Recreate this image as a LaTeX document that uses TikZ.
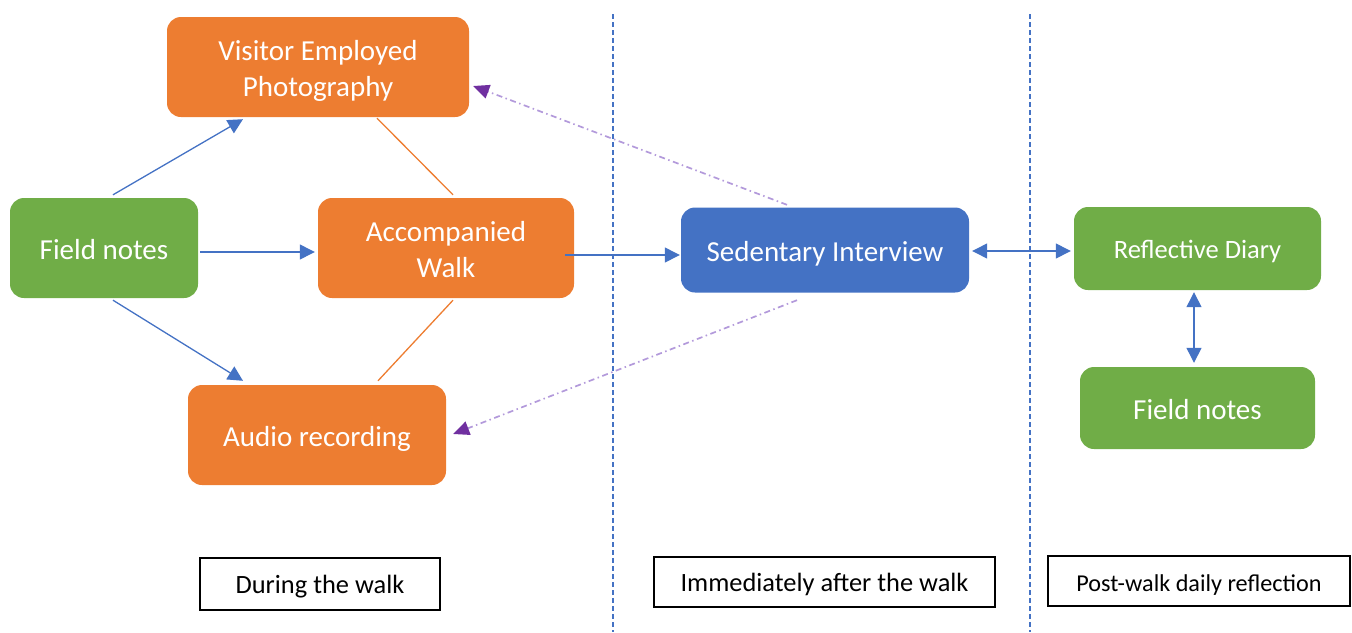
\documentclass[tikz,border=0pt]{standalone}
\usepackage{fontspec}
\setmainfont{Carlito}
\usetikzlibrary{arrows.meta,calc}
\definecolor{orng}{HTML}{ED7D31}
\definecolor{grn}{HTML}{70AD47}
\definecolor{blu}{HTML}{4472C4}
\definecolor{purp}{HTML}{7030A0}
\definecolor{purpl}{HTML}{B39ADB}
\begin{document}
\begin{tikzpicture}[x=1pt,y=-1pt,
  box/.style={rectangle, rounded corners=14pt, text=white, align=center,
    inner sep=0pt, font=\fontsize{29}{36}\selectfont,
    text height=22pt, text depth=0pt},
  twoline/.style={text height=58pt, text depth=0pt},
  orangebox/.style={box, fill=orng},
  greenbox/.style={box, fill=grn},
  bluebox/.style={box, fill=blu},
  phase/.style={rectangle, draw=black, line width=1.1pt, inner sep=0pt,
    font=\fontsize{26.4}{30}\selectfont, text height=18pt, text depth=0pt},
  bluetip/.tip={Triangle[length=15pt,width=15pt]},
  flow/.style={blu, line width=1.3pt, -bluetip},
  twoway/.style={blu, line width=1.3pt, bluetip-bluetip},
  link/.style={orng, line width=1.3pt},
  feedback/.style={purpl, line width=1.7pt, dash pattern=on 6pt off 3.5pt on 1.5pt off 3.5pt,
    -{Triangle[length=16pt,width=14pt,fill=purp,color=purp]}},
  divider/.style={blu, line width=1.2pt, dash pattern=on 5pt off 3pt},
]
\useasboundingbox (0,0) rectangle (1352,632);

% phase dividers
\draw[divider] (613,14) -- (613,632);
\draw[divider] (1030,14) -- (1030,632);

% during the walk
\node[orangebox, twoline, minimum width=302pt, minimum height=100pt] (vep) at (318,67) {Visitor Employed\\Photography};
\node[greenbox, minimum width=188pt, minimum height=100pt] (fnl) at (104,248) {Field notes};
\node[orangebox, twoline, minimum width=256pt, minimum height=100pt] (acc) at (446,248) {Accompanied\\Walk};
\node[orangebox, minimum width=258pt, minimum height=100pt] (aud) at (317,435) {Audio recording};

% after the walk
\node[bluebox, minimum width=288pt, minimum height=85pt] (sed) at (825,250) {Sedentary Interview};

% daily reflection
\node[greenbox, minimum width=247pt, minimum height=83pt, font=\fontsize{26.5}{32}\selectfont, text height=20pt] (rd) at (1197.5,248.5) {Reflective Diary};
\node[greenbox, minimum width=235pt, minimum height=82pt] (fnr) at (1197.5,408) {Field notes};

% phase labels
\node[phase, minimum width=240pt, minimum height=52pt] (lw) at (320,584) {During the walk};
\node[phase, minimum width=341pt, minimum height=50pt] (la) at (824.5,582) {Immediately after the walk};
\node[phase, minimum width=302pt, minimum height=50pt, font=\fontsize{24.2}{28}\selectfont, text height=20pt] (lp) at (1199,581) {Post-walk daily reflection};

% connectors
\draw[flow] ($(fnl.north)+(9,-3)$) -- ($(vep.south)+(-75,2)$);
\draw[flow] ($(fnl.east)+(2,4)$) -- ($(acc.west)+(-3,4)$);
\draw[flow] ($(fnl.south)+(9,2)$) -- ($(aud.north)+(-74,-4)$);
\draw[link] ($(vep.south)+(59,1)$) -- ($(acc.north)+(7,-3)$);
\draw[link] ($(acc.south)+(7,2)$) -- ($(aud.north)+(61,-4)$);
\draw[flow] ($(acc.east)+(-9,7)$) -- ($(sed.west)+(-1,5)$);
\draw[feedback] ($(sed.north)+(-38,-2.5)$) -- ($(vep.east)+(4,19)$);
\draw[feedback] ($(sed.south)+(-28,7.5)$) -- ($(aud.east)+(7,-1)$);
\draw[twoway] ($(sed.east)+(3,1)$) -- ($(rd.west)+(-3,2.5)$);
\draw[twoway] ($(rd.south)+(-3.5,2)$) -- ($(fnr.north)+(-3.5,-4)$);
\end{tikzpicture}
\end{document}
